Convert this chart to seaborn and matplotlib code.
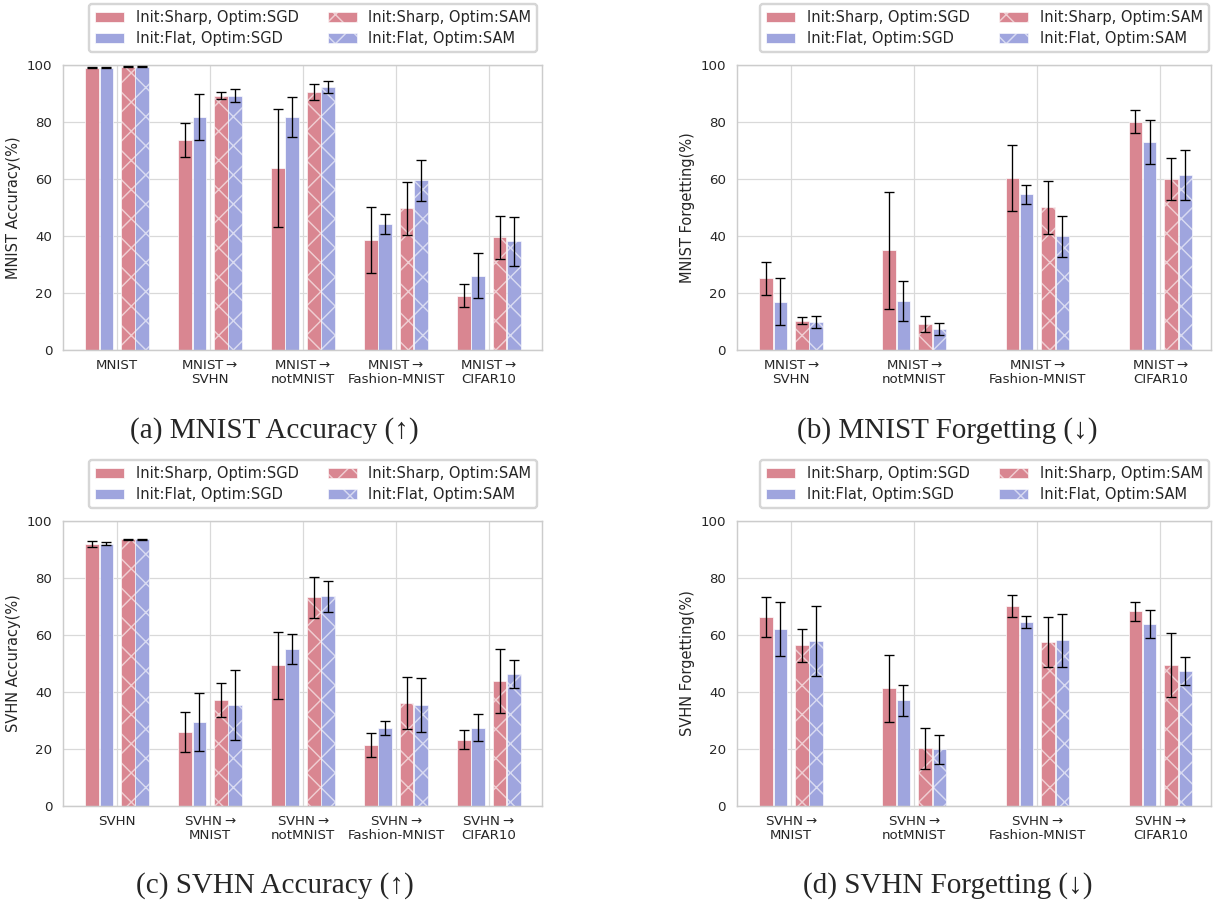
import numpy as np
import matplotlib.pyplot as plt
import seaborn as sns

series = ["Init:Sharp, Optim:SGD", "Init:Flat, Optim:SGD",
          "Init:Sharp, Optim:SAM", "Init:Flat, Optim:SAM"]

arrow = "$\\rightarrow$"
mnist_acc_cats = ["MNIST", "MNIST" + arrow + "\nSVHN", "MNIST" + arrow + "\nnotMNIST",
                  "MNIST" + arrow + "\nFashion-MNIST", "MNIST" + arrow + "\nCIFAR10"]
mnist_fgt_cats = mnist_acc_cats[1:]
svhn_acc_cats = ["SVHN", "SVHN" + arrow + "\nMNIST", "SVHN" + arrow + "\nnotMNIST",
                 "SVHN" + arrow + "\nFashion-MNIST", "SVHN" + arrow + "\nCIFAR10"]
svhn_fgt_cats = svhn_acc_cats[1:]

# rows follow the order of `series`
mnist_acc = [[99.1, 73.7, 63.9, 38.6, 19.1],
             [99.1, 81.9, 81.6, 44.2, 26.0],
             [99.4, 89.2, 90.4, 49.7, 39.5],
             [99.4, 89.2, 92.2, 59.5, 38.1]]
mnist_acc_err = [[0.2, 6.0, 20.6, 11.6, 3.9],
                 [0.2, 8.1, 7.0, 3.5, 7.9],
                 [0.2, 1.3, 2.8, 9.3, 7.4],
                 [0.2, 2.3, 2.1, 7.2, 8.7]]

mnist_fgt = [[25.1, 35.0, 60.5, 80.1],
             [17.0, 17.3, 54.7, 73.0],
             [10.3, 9.0, 50.1, 60.0],
             [9.9, 7.3, 39.9, 61.4]]
mnist_fgt_err = [[5.9, 20.5, 11.6, 4.0],
                 [8.2, 7.0, 3.3, 7.8],
                 [1.3, 2.8, 9.3, 7.4],
                 [2.2, 2.1, 7.2, 8.7]]

svhn_acc = [[91.8, 26.0, 49.4, 21.4, 23.2],
            [92.0, 29.6, 55.0, 27.3, 27.5],
            [93.6, 37.2, 73.2, 36.1, 43.9],
            [93.6, 35.4, 73.6, 35.4, 46.3]]
svhn_acc_err = [[1.0, 7.0, 11.7, 4.1, 3.3],
                [0.6, 10.2, 5.3, 2.5, 4.8],
                [0.2, 5.8, 7.3, 9.1, 11.3],
                [0.2, 12.4, 5.4, 9.5, 4.9]]

svhn_fgt = [[66.2, 41.3, 70.2, 68.3],
            [62.1, 37.1, 64.5, 63.9],
            [56.4, 20.2, 57.4, 49.4],
            [57.8, 19.9, 58.1, 47.4]]
svhn_fgt_err = [[7.0, 11.7, 4.0, 3.3],
                [9.6, 5.5, 2.2, 4.8],
                [5.8, 7.3, 8.8, 11.3],
                [12.3, 5.1, 9.4, 4.8]]

sns.set_theme(style="whitegrid", rc={
    "grid.color": ".85", "grid.linewidth": 0.5,
    "axes.edgecolor": ".8", "axes.linewidth": 0.6,
    "hatch.linewidth": 0.6,
    "xtick.major.size": 0, "ytick.major.size": 0,
})
plt.rcParams["font.family"] = ["DejaVu Sans"]
plt.rcParams["mathtext.fontset"] = "dejavusans"

red = "#d98691"
blue = "#9fa5de"
colors = [red, blue, red, blue]
hatches = [None, None, "xx", "xx"]
shift = [-1.85, -0.8, 0.8, 1.85]

fig = plt.figure(figsize=(1215 / 175, 904 / 175), dpi=175)

panels = [
    ([0.052, 0.6128, 0.394, 0.3153], mnist_acc_cats, mnist_acc, mnist_acc_err,
     "MNIST Accuracy(%)", 0.145, (-0.58, 4.57)),
    ([0.6066, 0.6128, 0.390, 0.3153], mnist_fgt_cats, mnist_fgt, mnist_fgt_err,
     "MNIST Forgetting(%)", 0.11, (-0.44, 3.41)),
    ([0.052, 0.1084, 0.394, 0.3153], svhn_acc_cats, svhn_acc, svhn_acc_err,
     "SVHN Accuracy(%)", 0.145, (-0.58, 4.57)),
    ([0.6066, 0.1084, 0.390, 0.3153], svhn_fgt_cats, svhn_fgt, svhn_fgt_err,
     "SVHN Forgetting(%)", 0.11, (-0.44, 3.41)),
]

for rect, cats, vals, errs, ylabel, w, xlim in panels:
    ax = fig.add_axes(rect)
    x = np.arange(len(cats))
    for k in range(4):
        pos = x + shift[k] * w
        if hatches[k]:
            ax.bar(pos, vals[k], w, color=colors[k], hatch=hatches[k],
                   edgecolor=(1, 1, 1, 0.6), linewidth=0.4, label=series[k],
                   zorder=2)
        else:
            ax.bar(pos, vals[k], w, color=colors[k],
                   edgecolor=(1, 1, 1, 0.7), linewidth=0.4, label=series[k],
                   zorder=2)
        ax.errorbar(pos, vals[k], yerr=errs[k], fmt="none", ecolor="black",
                    elinewidth=0.55, capsize=2, capthick=0.55, zorder=3)
    ax.set_xticks(x)
    ax.set_xticklabels(cats, fontsize=5.5, color=".15", linespacing=1.1)
    ax.set_xlim(*xlim)
    ax.set_ylim(0, 100)
    ax.set_yticks([0, 20, 40, 60, 80, 100])
    ax.tick_params(axis="y", labelsize=5.5, labelcolor=".15", pad=4.5, length=0)
    ax.tick_params(axis="x", pad=3.8, length=0)
    ax.set_ylabel(ylabel, fontsize=6, color=".15")
    ax.yaxis.set_label_coords(-0.088, 0.5)
    ax.grid(True, axis="both", zorder=0)
    ax.set_axisbelow(True)
    ax.legend(ncol=2, loc="lower center", bbox_to_anchor=(0.522, 1.045),
              borderaxespad=0, fontsize=6, frameon=True, edgecolor=".8",
              handlelength=2.0, columnspacing=2.0, labelspacing=0.45)

cap_font = ["Liberation Serif", "DejaVu Serif"]
fig.text(0.226, 0.524, "(a) MNIST Accuracy (↑)", ha="center", va="center",
         fontsize=12, family=cap_font)
fig.text(0.780, 0.524, "(b) MNIST Forgetting (↓)", ha="center", va="center",
         fontsize=12, family=cap_font)
fig.text(0.226, 0.020, "(c) SVHN Accuracy (↑)", ha="center", va="center",
         fontsize=12, family=cap_font)
fig.text(0.780, 0.020, "(d) SVHN Forgetting (↓)", ha="center", va="center",
         fontsize=12, family=cap_font)

fig.savefig("out.png", dpi=175)
